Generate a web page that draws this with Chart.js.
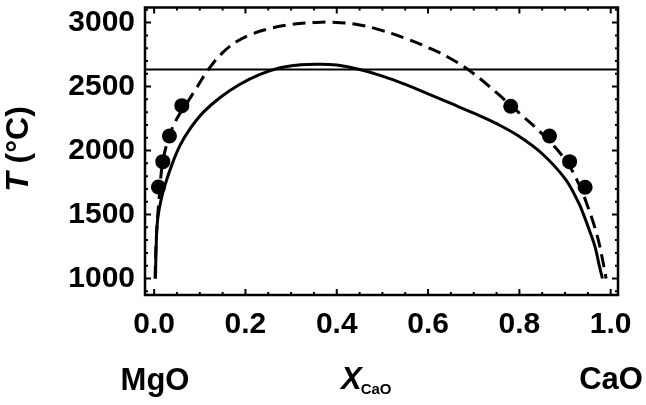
<!DOCTYPE html>
<html>
<head>
<meta charset="utf-8">
<script src="https://cdn.jsdelivr.net/npm/chart.js@4"></script>
<style>
html,body{margin:0;padding:0;background:#fff;}
#wrap{width:646px;height:405px;position:relative;}
</style>
</head>
<body>
<div id="wrap"><canvas id="c" width="646" height="405"></canvas></div>
<script>
// Solid curve (calculated solvus)
const solidX = [0.003, 0.0044, 0.0073, 0.0146, 0.0241, 0.0388, 0.057, 0.0789, 0.108, 0.1446, 0.188, 0.232, 0.276, 0.32, 0.36, 0.40, 0.45, 0.50, 0.55, 0.60, 0.65, 0.70, 0.75, 0.80, 0.85, 0.90, 0.93, 0.94, 0.955, 0.966, 0.975, 0.982];
const solidT = [1000, 1244, 1449, 1605, 1734, 1888, 2042, 2171, 2300, 2415, 2518, 2595, 2647, 2670, 2675, 2668, 2634, 2582, 2517, 2443, 2368, 2292, 2210, 2110, 1975, 1780, 1590, 1505, 1360, 1244, 1100, 1000];
// Dashed curve
const dashedX = [0.002, 0.005, 0.0116, 0.019, 0.0335, 0.05, 0.0708, 0.0935, 0.119, 0.15, 0.18, 0.21, 0.25, 0.30, 0.35, 0.39, 0.45, 0.50, 0.55, 0.60, 0.65, 0.70, 0.75, 0.80, 0.85, 0.90, 0.93, 0.95, 0.97, 0.982, 0.99];
const dashedT = [1000, 1330, 1656, 1913, 2114, 2250, 2365, 2493, 2634, 2765, 2850, 2905, 2950, 2985, 3000, 3003, 2982, 2937, 2877, 2805, 2718, 2600, 2452, 2292, 2130, 1930, 1740, 1560, 1340, 1150, 1000];
// Experimental points
const expX = [0.0094, 0.019, 0.0335, 0.0607, 0.781, 0.866, 0.910, 0.944];
const expT = [1715, 1913, 2114, 2351, 2346, 2114, 1913, 1713];
// Horizontal line
const lineT = 2634;
// Axes
const xMin = -0.02, xMax = 1.016;
const yMin = 871, yMax = 3118;
const xTicks = [0.0, 0.2, 0.4, 0.6, 0.8, 1.0];
const yTicks = [1000, 1500, 2000, 2500, 3000];
const xMinorStep = 0.05, yMinorStep = 100;

const FONT = '"Liberation Sans", Arial, sans-serif';
const toPts = (xs, ys) => xs.map((x, i) => ({x: x, y: ys[i]}));

const framePlugin = {
  id: 'frame',
  afterDatasetsDraw(chart) {
    const ctx = chart.ctx, a = chart.chartArea;
    const xs = chart.scales.x, ys = chart.scales.y;
    ctx.save();
    ctx.strokeStyle = '#000';
    ctx.lineWidth = 2;
    for (let v = 0; v <= 1.0001; v += xMinorStep) {
      const px = xs.getPixelForValue(v);
      const major = Math.abs(v / 0.2 - Math.round(v / 0.2)) < 1e-6;
      const L = major ? 6 : 3;
      ctx.beginPath();
      ctx.moveTo(px, a.bottom); ctx.lineTo(px, a.bottom - L);
      ctx.moveTo(px, a.top); ctx.lineTo(px, a.top + L);
      ctx.stroke();
    }
    for (let v = 900; v <= 3100; v += yMinorStep) {
      const py = ys.getPixelForValue(v);
      if (py < a.top || py > a.bottom) continue;
      const L = (v % 500 === 0) ? 6 : 3;
      ctx.beginPath();
      ctx.moveTo(a.left, py); ctx.lineTo(a.left + L, py);
      ctx.moveTo(a.right, py); ctx.lineTo(a.right - L, py);
      ctx.stroke();
    }
    ctx.lineWidth = 2.5;
    ctx.strokeRect(a.left, a.top, a.right - a.left, a.bottom - a.top);
    ctx.restore();
  },
  afterDraw(chart) {
    const ctx = chart.ctx;
    ctx.save();
    ctx.fillStyle = '#000';
    ctx.textBaseline = 'middle';
    // Y axis title: T (°C)
    ctx.save();
    ctx.translate(19, 149);
    ctx.rotate(-Math.PI / 2);
    ctx.font = 'italic bold 32px ' + FONT;
    const wT = ctx.measureText('T').width;
    ctx.font = 'bold 32px ' + FONT;
    const wR = ctx.measureText(' (°C)').width;
    const sx = -(wT + wR) / 2;
    ctx.textAlign = 'left';
    ctx.font = 'italic bold 32px ' + FONT;
    ctx.fillText('T', sx, 0);
    ctx.font = 'bold 32px ' + FONT;
    ctx.fillText(' (°C)', sx + wT, 0);
    ctx.restore();
    // bottom labels
    ctx.font = 'bold 31px ' + FONT;
    ctx.textAlign = 'center';
    ctx.fillText('MgO', 155, 381);
    ctx.fillText('CaO', 611, 380);
    ctx.textAlign = 'left';
    ctx.font = 'italic bold 31px ' + FONT;
    const xw = ctx.measureText('X').width;
    ctx.fillText('X', 341, 380);
    ctx.font = 'bold 15px ' + FONT;
    ctx.fillText('CaO', 341 + xw - 1, 390);
    ctx.restore();
  }
};

new Chart(document.getElementById('c'), {
  type: 'line',
  data: {
    datasets: [
      {
        label: 'solid',
        data: toPts(solidX, solidT),
        borderColor: '#000', borderWidth: 3,
        pointRadius: 0, fill: false, tension: 0.4
      },
      {
        label: 'dashed',
        data: toPts(dashedX, dashedT),
        borderColor: '#000', borderWidth: 3, borderDash: [13, 7],
        pointRadius: 0, fill: false, tension: 0.4
      },
      {
        label: 'line',
        data: [{x: xMin, y: lineT}, {x: xMax, y: lineT}],
        borderColor: '#000', borderWidth: 2,
        pointRadius: 0, fill: false, tension: 0
      },
      {
        label: 'exp',
        data: toPts(expX, expT),
        showLine: false,
        pointRadius: 7.5, pointBackgroundColor: '#000', pointBorderColor: '#000',
        pointBorderWidth: 0
      }
    ]
  },
  options: {
    responsive: false,
    animation: false,
    events: [],
    layout: {padding: {top: 4, right: 28, left: 0, bottom: 0}},
    plugins: {legend: {display: false}, tooltip: {enabled: false}},
    scales: {
      x: {
        type: 'linear', min: xMin, max: xMax,
        grid: {display: false, drawTicks: false},
        border: {display: false},
        afterBuildTicks: (s) => { s.ticks = xTicks.map(v => ({value: v})); },
        afterFit: (s) => { s.height = 110; s.paddingLeft = 0; s.paddingRight = 0; },
        ticks: {
          padding: 12, color: '#000', maxRotation: 0,
          font: {family: FONT, size: 30, weight: 'bold'},
          callback: (v) => Number(v).toFixed(1)
        }
      },
      y: {
        type: 'linear', min: yMin, max: yMax,
        grid: {display: false, drawTicks: false},
        border: {display: false},
        afterBuildTicks: (s) => { s.ticks = yTicks.map(v => ({value: v})); },
        afterFit: (s) => { s.width = 145; s.paddingTop = 0; s.paddingBottom = 0; },
        ticks: {
          padding: 10, color: '#000',
          font: {family: FONT, size: 30, weight: 'bold'},
          callback: (v) => String(v)
        }
      }
    }
  },
  plugins: [framePlugin]
});
</script>
</body>
</html>
